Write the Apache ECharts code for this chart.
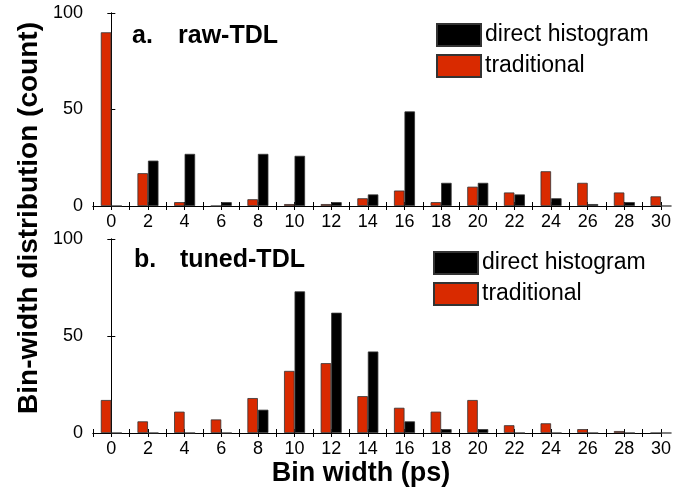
<!DOCTYPE html>
<html>
<head>
<meta charset="utf-8">
<title>Bin-width distribution</title>
<script src="https://cdn.jsdelivr.net/npm/echarts@6/dist/echarts.min.js"></script>
<style>
    html, body { margin: 0; padding: 0; background: #fff; }
    .chart { width: 699px; height: 491px; }
</style>
</head>
<body>
<div class="chart"></div>
<script>
// 数据
var binWidths = [0, 2, 4, 6, 8, 10, 12, 14, 16, 18, 20, 22, 24, 26, 28, 30];
var rawTraditional = [90, 17, 2, 0, 3.5, 1, 1, 4, 8, 2, 10, 7, 18, 12, 7, 5];
var rawDirect = [0, 23.5, 27, 2, 27, 26, 2, 6, 49, 12, 12, 6, 4, 1, 2, 0];
var tunedTraditional = [17, 6, 11, 7, 18, 32, 36, 19, 13, 11, 17, 4, 5, 2, 1, 0];
var tunedDirect = [0, 0, 0, 0, 12, 73, 62, 42, 6, 2, 2, 0, 0, 0, 0, 0];
var yTicks = [0, 50, 100];

(function () {
    var myChart = echarts.init(document.querySelector('.chart'));
    var font = '"Liberation Sans", Arial, sans-serif';
    var red = '#d92a00';

    // x,y 配对
    function pairs(vals) {
        return binWidths.map(function (x, i) { return [x, vals[i]]; });
    }

    // 下/上 x 轴
    function xAxis(grid, pos) {
        return {
            gridIndex: grid,
            type: 'value',
            position: pos,
            min: -1,
            max: 30,
            interval: 1,
            axisLine: { show: true, lineStyle: { color: '#000', width: 1 } },
            axisTick: { show: true, inside: true, length: 4, lineStyle: { color: '#000' } },
            axisLabel: {
                show: pos === 'bottom',
                color: '#000',
                fontSize: 18,
                fontFamily: font,
                margin: 7,
                formatter: function (v) {
                    return (v >= 0 && v % 2 === 0) ? String(v) : '';
                }
            },
            splitLine: { show: false }
        };
    }

    // 左/右 y 轴
    function yAxis(grid, pos) {
        return {
            gridIndex: grid,
            type: 'value',
            position: pos,
            min: yTicks[0],
            max: yTicks[yTicks.length - 1],
            interval: yTicks[1] - yTicks[0],
            axisLine: { show: true, lineStyle: { color: '#000', width: 1 } },
            axisTick: { show: true, inside: true, length: 4, lineStyle: { color: '#000' } },
            axisLabel: {
                show: pos === 'left',
                color: '#000',
                fontSize: 18,
                fontFamily: font,
                margin: 10
            },
            splitLine: { show: false }
        };
    }

    function barSeries(name, grid, vals, color) {
        return {
            name: name,
            type: 'bar',
            xAxisIndex: grid * 2,
            yAxisIndex: grid * 2,
            barWidth: 10.5,
            barGap: '0%',
            data: pairs(vals),
            itemStyle: { color: color, borderColor: '#333', borderWidth: 0.8 },
            emphasis: { disabled: true }
        };
    }

    function legend(left, top) {
        return {
            left: left,
            top: top,
            padding: 0,
            orient: 'vertical',
            data: ['direct histogram', 'traditional'],
            icon: 'rect',
            itemWidth: 44,
            itemHeight: 22,
            itemGap: 7,
            selectedMode: false,
            textStyle: { color: '#000', fontSize: 23, fontFamily: font, padding: [0, 0, 0, -1] }
        };
    }

    var option = {
        animation: false,
        color: [red, '#000'],
        grid: [
            { left: 93, top: 13, width: 568, height: 193 },
            { left: 93, top: 239, width: 568, height: 194 }
        ],
        xAxis: [xAxis(0, 'bottom'), xAxis(0, 'top'), xAxis(1, 'bottom'), xAxis(1, 'top')],
        yAxis: [yAxis(0, 'left'), yAxis(0, 'right'), yAxis(1, 'left'), yAxis(1, 'right')],
        legend: [legend(436, 23), legend(433, 251)],
        series: [
            barSeries('traditional', 0, rawTraditional, red),
            barSeries('direct histogram', 0, rawDirect, '#000'),
            barSeries('traditional', 1, tunedTraditional, red),
            barSeries('direct histogram', 1, tunedDirect, '#000')
        ],
        // 面板标签和坐标轴标题
        graphic: [
            { type: 'text', left: 132, top: 24, style: { text: 'a.', font: 'bold 25px ' + font, fill: '#000' } },
            { type: 'text', left: 178, top: 24, style: { text: 'raw-TDL', font: 'bold 25px ' + font, fill: '#000' } },
            { type: 'text', left: 134, top: 248, style: { text: 'b.', font: 'bold 25px ' + font, fill: '#000' } },
            { type: 'text', left: 180, top: 248, style: { text: 'tuned-TDL', font: 'bold 25px ' + font, fill: '#000' } },
            { type: 'text', x: 361, y: 474, style: { text: 'Bin width (ps)', font: 'bold 27px ' + font, fill: '#000', textAlign: 'center', textVerticalAlign: 'middle' } },
            { type: 'text', x: 29, y: 218, rotation: Math.PI / 2, style: { text: 'Bin-width distribution (count)', font: 'bold 28px ' + font, fill: '#000', textAlign: 'center', textVerticalAlign: 'middle' } }
        ]
    };
    myChart.setOption(option);
    window.addEventListener('resize', function () {
        myChart.resize();
    });
})();
</script>
</body>
</html>
